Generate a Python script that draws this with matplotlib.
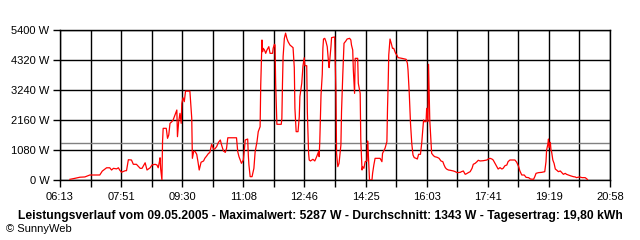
import matplotlib
matplotlib.use("Agg")
import matplotlib.pyplot as plt
import numpy as np

plt.rcParams['font.family'] = ['Liberation Sans', 'DejaVu Sans']

# ---- data ----
times = [
    "06:29", "06:37", "06:45", "06:53", "07:01", "07:17", "07:21", "07:28", "07:33", "07:36",
    "07:39", "07:44", "07:47", "07:49", "07:52", "07:58", "08:00", "08:03", "08:08", "08:11",
    "08:16", "08:22", "08:25", "08:30", "08:33", "08:38", "08:41", "08:46", "08:49", "08:51",
    "08:53", "08:54", "08:55", "08:57", "08:58", "08:59", "09:04", "09:06", "09:08", "09:10",
    "09:13", "09:15", "09:18", "09:21", "09:22", "09:24", "09:26", "09:28", "09:29", "09:31",
    "09:33", "09:35", "09:42", "09:44", "09:45", "09:46", "09:48", "09:50", "09:53", "09:55",
    "09:57", "10:00", "10:04", "10:06", "10:09", "10:12", "10:14", "10:17", "10:20", "10:22",
    "10:25", "10:28", "10:31", "10:33", "10:36", "10:39", "10:41", "10:43", "10:57", "10:59",
    "11:01", "11:05", "11:08", "11:10", "11:11", "11:15", "11:16", "11:17", "11:19", "11:22",
    "11:25", "11:27", "11:30", "11:32", "11:35", "11:36", "11:38", "11:39", "11:40", "11:42",
    "11:44", "11:46", "11:49", "11:51", "11:55", "11:56", "11:58", "11:59", "12:00", "12:02",
    "12:09", "12:10", "12:11", "12:12", "12:14", "12:16", "12:18", "12:20", "12:23", "12:26",
    "12:28", "12:30", "12:31", "12:33", "12:36", "12:38", "12:39", "12:42", "12:44", "12:46",
    "12:47", "12:50", "12:51", "12:53", "12:54", "12:56", "13:00", "13:03", "13:06", "13:09",
    "13:10", "13:11", "13:13", "13:15", "13:16", "13:17", "13:19", "13:21", "13:23", "13:25",
    "13:26", "13:28", "13:29", "13:30", "13:35", "13:37", "13:38", "13:40", "13:42", "13:44",
    "13:45", "13:46", "13:48", "13:50", "13:53", "13:55", "13:59", "14:01", "14:02", "14:04",
    "14:05", "14:07", "14:08", "14:12", "14:13", "14:16", "14:17", "14:19", "14:20", "14:22",
    "14:24", "14:27", "14:28", "14:29", "14:31", "14:35", "14:36", "14:38", "14:40", "14:48",
    "14:51", "14:52", "14:56", "14:59", "15:00", "15:01", "15:02", "15:04", "15:06", "15:08",
    "15:10", "15:13", "15:15", "15:17", "15:23", "15:30", "15:32", "15:33", "15:35", "15:37",
    "15:39", "15:41", "15:43", "15:46", "15:48", "15:50", "15:53", "15:55", "15:57", "15:58",
    "15:59", "16:02", "16:03", "16:05", "16:06", "16:07", "16:08", "16:10", "16:11", "16:14",
    "16:16", "16:20", "16:23", "16:26", "16:29", "16:31", "16:33", "16:35", "16:38", "16:41",
    "16:46", "16:49", "16:52", "16:57", "16:59", "17:02", "17:05", "17:07", "17:10", "17:13",
    "17:16", "17:18", "17:21", "17:24", "17:26", "17:29", "17:34", "17:40", "17:42", "17:45",
    "17:48", "17:50", "17:53", "17:56", "17:58", "18:01", "18:04", "18:06", "18:09", "18:12",
    "18:14", "18:17", "18:25", "18:28", "18:31", "18:33", "18:36", "18:40", "18:43", "18:47",
    "18:50", "18:55", "18:57", "18:59", "19:03", "19:08", "19:13", "19:15", "19:16", "19:18",
    "19:19", "19:20", "19:22", "19:23", "19:24", "19:26", "19:28", "19:30", "19:32", "19:35",
    "19:38", "19:40", "19:43", "19:46", "19:48", "19:51", "19:54", "19:59", "20:02", "20:04",
    "20:09", "20:13", "20:18", "20:21", "20:22",
]
power_w = [
    25, 60, 100, 110, 180, 180, 320, 440, 440, 360,
    420, 400, 440, 360, 280, 335, 335, 730, 720, 565,
    565, 420, 420, 620, 360, 440, 540, 565, 540, 440,
    660, 800, 400, 0, 1380, 1860, 1860, 1500, 1620, 2040,
    2100, 2160, 2340, 2520, 1560, 2100, 2400, 2040, 2760, 2960,
    2820, 3200, 3200, 2580, 2220, 780, 1020, 1040, 925, 660,
    360, 640, 685, 780, 865, 960, 985, 1285, 1115, 1115,
    1200, 1355, 1440, 1260, 1045, 995, 1140, 1520, 1520, 1020,
    840, 600, 720, 1165, 1440, 1475, 900, 540, 120, 120,
    420, 1020, 1380, 1740, 1920, 3420, 5040, 4620, 4740, 4680,
    4560, 4680, 4800, 4560, 4560, 4740, 4885, 4860, 3480, 2005,
    2005, 2220, 3480, 4440, 5100, 5287, 5100, 4980, 4860, 4800,
    4765, 4045, 2580, 1740, 1740, 2280, 3000, 3480, 4115, 4400,
    4115, 4115, 2460, 960, 720, 685, 745, 685, 840, 1020,
    840, 1380, 3060, 3805, 4740, 5075, 5100, 4980, 4800, 4260,
    4045, 4560, 4800, 5125, 5150, 3180, 960, 480, 600, 1020,
    1260, 2460, 3780, 4920, 5005, 5075, 5100, 5040, 4860, 4680,
    3960, 3120, 4380, 4380, 3480, 3120, 1440, 360, 480, 420,
    660, 685, 1405, 1020, 0, 0, 240, 540, 780, 780,
    660, 960, 1140, 1380, 2580, 3420, 4500, 5075, 4920, 4740,
    4740, 4560, 4500, 4405, 4380, 4345, 4200, 3960, 3120, 2040,
    1320, 900, 805, 780, 755, 925, 925, 1320, 1860, 2160,
    2100, 2100, 2580, 2100, 4165, 3180, 2160, 1320, 960, 875,
    840, 815, 780, 685, 660, 540, 445, 395, 360, 350,
    325, 300, 265, 275, 300, 325, 205, 225, 265, 300,
    420, 565, 600, 660, 710, 685, 695, 720, 755, 780,
    755, 720, 600, 480, 395, 445, 395, 420, 515, 540,
    660, 720, 720, 635, 480, 325, 180, 180, 95, 85,
    35, 25, 120, 240, 265, 275, 300, 660, 1080, 1285,
    1475, 1165, 1355, 1080, 1020, 720, 600, 395, 360, 300,
    325, 275, 205, 240, 205, 180, 155, 120, 110, 85,
    110, 85, 85, 35, 0,
]
average_w = 1343
y_tick_values = [0, 1080, 2160, 3240, 4320, 5400]
x_tick_labels = ["06:13", "07:51", "09:30", "11:08", "12:46",
                 "14:25", "16:03", "17:41", "19:19", "20:58"]
title_text = ("Leistungsverlauf vom 09.05.2005 - Maximalwert: 5287 W - "
              "Durchschnitt: 1343 W - Tagesertrag: 19,80 kWh")


def to_min(s):
    h, m = s.split(":")
    return int(h) * 60 + int(m)


t = np.array([to_min(s) for s in times], dtype=float)
p = np.array(power_w, dtype=float)

x_start = to_min(x_tick_labels[0])
x_end = to_min(x_tick_labels[-1])

fig = plt.figure(figsize=(6.4, 2.4), dpi=100)
ax = fig.add_axes([60 / 640, 60 / 240, 550 / 640, 150 / 240])

ax.set_xlim(x_start, x_end)
ax.set_ylim(0, 5400)

all_ticks = np.linspace(x_start, x_end, 2 * (len(x_tick_labels) - 1) + 1)
ax.set_xticks(all_ticks[::2])
ax.set_xticklabels(x_tick_labels)
ax.set_xticks(all_ticks[1::2], minor=True)
ax.set_yticks(y_tick_values)
ax.set_yticklabels([f"{v} W" for v in y_tick_values])

ax.grid(True, which='both', color='black', linewidth=1.0)
ax.set_axisbelow(True)
ax.tick_params(axis='both', which='both', length=5, width=1.0, color='black',
               labelsize=8, direction='out')
ax.tick_params(axis='x', which='major', pad=4)
ax.tick_params(axis='y', which='major', pad=2.5)
for sp in ax.spines.values():
    sp.set_color('black')
    sp.set_linewidth(1.0)

ax.axhline(average_w, color='#808080', linewidth=1.0, zorder=2)
ax.plot(t, p, color='#ff0000', linewidth=0.9, zorder=3)

fig.text(320 / 640, 1 - 216 / 240, title_text, ha='center', va='center',
         fontsize=8.75, fontweight='bold')
fig.text(6 / 640, 1 - 229.5 / 240, "\u00a9 SunnyWeb", ha='left', va='center',
         fontsize=8)

fig.savefig("out.png", dpi=100, facecolor='white')
